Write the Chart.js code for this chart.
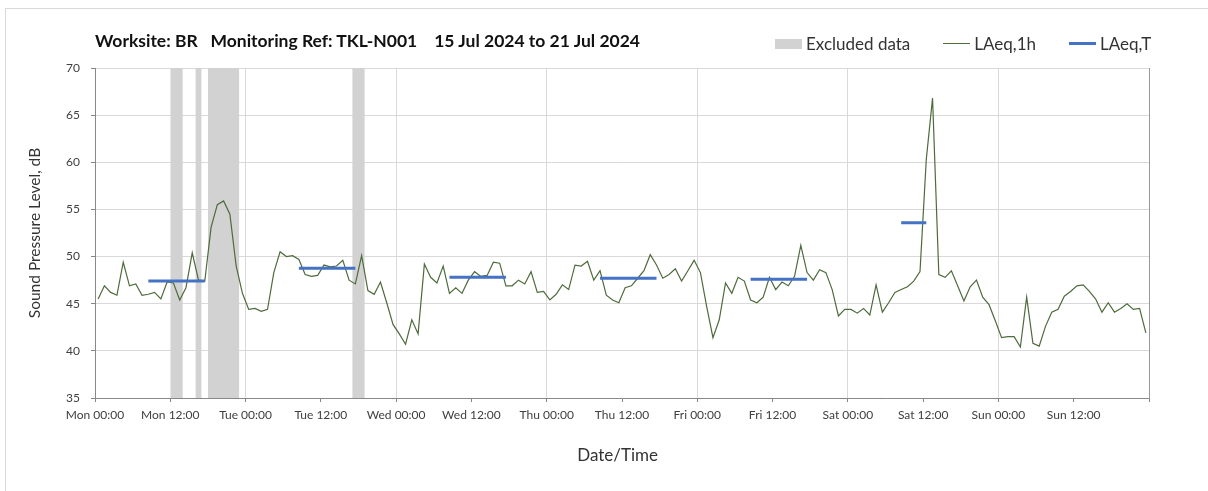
<!DOCTYPE html>
<html>
<head>
<meta charset="utf-8">
<script src="https://cdn.jsdelivr.net/npm/chart.js"></script>
<style>
  html, body { margin: 0; padding: 0; background: #fff; }
  #wrap { position: relative; width: 1208px; height: 491px; overflow: hidden; }
  #frame { position: absolute; left: 5px; top: 8px; right: -2px; bottom: -2px;
           border-left: 1px solid #d9d9d9; border-top: 1px solid #d9d9d9; }
  #title { position: absolute; left: 95px; top: 30px; font: bold 17.5px Lato, sans-serif;
           color: #111; white-space: pre; }
  #legend { position: absolute; left: 775px; top: 33px; font: 17px Lato, sans-serif;
            color: #333; display: flex; align-items: center; white-space: pre; }
  .sw { display: inline-block; width: 27px; margin-right: 4px; }
  .gap { width: 33px; display: inline-block; }
  canvas { position: absolute; left: 0; top: 0; }
</style>
</head>
<body>
<div id="wrap">
  <div id="frame"></div>
  <canvas id="myChart" width="1208" height="491"></canvas>
  <div id="title">Worksite: BR   Monitoring Ref: TKL-N001    15 Jul 2024 to 21 Jul 2024</div>
  <div id="legend">
    <span class="sw" style="height:10px;background:#d2d2d2"></span><span>Excluded data</span><span class="gap"></span>
    <span class="sw" style="height:1px;background:#4e6b3c"></span><span>LAeq,1h</span><span class="gap"></span>
    <span class="sw" style="height:3px;background:#4472c4"></span><span>LAeq,T</span>
  </div>
</div>
<script>
// hourly LAeq,1h values, Mon 00:00 -> Sun 23:00 (hours since Mon 00:00)
const laeq1h = [
  45.5,46.9,46.2,45.9,49.4,46.9,47.1,45.9,46.0,46.2,45.5,47.3,47.2,45.4,46.7,50.4,47.5,47.4,53.1,55.5,55.9,54.5,49.0,46.1,
  44.4,44.5,44.2,44.4,48.3,50.5,50.0,50.1,49.7,48.1,47.9,48.0,49.1,48.9,49.0,49.6,47.5,47.1,50.1,46.4,46.0,47.3,45.1,42.8,
  41.8,40.7,43.3,41.8,49.2,47.8,47.2,49.0,46.1,46.7,46.1,47.5,48.4,47.9,48.0,49.4,49.3,46.9,46.9,47.5,47.1,48.4,46.2,46.3,
  45.4,46.0,47.0,46.5,49.1,49.0,49.5,47.5,48.5,45.9,45.4,45.1,46.7,46.9,47.7,48.5,50.2,49.1,47.7,48.1,48.7,47.4,48.5,49.6,
  48.3,44.7,41.4,43.3,47.2,46.1,47.8,47.4,45.4,45.1,45.7,47.8,46.5,47.3,46.9,47.9,51.2,48.3,47.5,48.6,48.3,46.5,43.7,44.4,
  44.4,44.0,44.5,43.8,47.0,44.1,45.1,46.2,46.5,46.8,47.4,48.4,60.3,66.8,48.1,47.8,48.5,46.9,45.3,46.8,47.5,45.7,44.9,43.2,
  41.4,41.5,41.5,40.4,45.7,40.8,40.5,42.6,44.1,44.4,45.8,46.3,46.9,47.0,46.3,45.5,44.1,45.1,44.1,44.5,45.0,44.4,44.5,41.9
];

// LAeq,T periods (hours since Mon 00:00)
const periodStart = [8.5, 32.5, 56.5, 80.5, 104.5, 128.5];
const periodEnd   = [17.5, 41.5, 65.5, 89.5, 113.5, 132.5];
const laeqT       = [47.4, 48.75, 47.8, 47.7, 47.6, 53.6];

// excluded data windows (hours since Mon 00:00)
const excludedStart = [12, 16, 18, 41];
const excludedEnd   = [14, 17, 23, 43];

const tickLabels = ['Mon 00:00','Mon 12:00','Tue 00:00','Tue 12:00','Wed 00:00','Wed 12:00','Thu 00:00',
  'Thu 12:00','Fri 00:00','Fri 12:00','Sat 00:00','Sat 12:00','Sun 00:00','Sun 12:00'];

const ctx = document.getElementById('myChart');

const lineData = laeq1h.map((v, i) => ({ x: i + 0.5, y: v }));

const tData = [];
periodStart.forEach((s, i) => {
  tData.push({ x: s, y: laeqT[i] }, { x: periodEnd[i], y: laeqT[i] }, { x: periodEnd[i] + 0.01, y: null });
});

const excludedSets = excludedStart.map((s, i) => ({
  type: 'line',
  label: 'Excluded data',
  data: [{ x: s, y: 70 }, { x: excludedEnd[i], y: 70 }],
  borderWidth: 0,
  borderColor: 'rgba(0,0,0,0)',
  backgroundColor: '#d2d2d2',
  fill: 'start',
  pointRadius: 0,
  order: 3
}));

const tickFont = { family: 'Lato', size: 12 };

new Chart(ctx, {
  type: 'line',
  data: {
    datasets: [
      {
        label: 'LAeq,1h',
        data: lineData,
        borderColor: '#4e6b3c',
        borderWidth: 1.2,
        pointRadius: 0,
        tension: 0,
        order: 2
      },
      {
        label: 'LAeq,T',
        data: tData,
        borderColor: '#4472c4',
        borderWidth: 3,
        pointRadius: 0,
        spanGaps: false,
        order: 1
      },
      ...excludedSets
    ]
  },
  options: {
    responsive: false,
    devicePixelRatio: 1,
    animation: false,
    layout: { padding: { top: 68, left: 26, right: 0, bottom: 0 } },
    plugins: {
      legend: { display: false },
      tooltip: { enabled: false }
    },
    scales: {
      x: {
        type: 'linear',
        min: 0,
        max: 168,
        afterFit: s => { s.height = 93; },
        afterBuildTicks: s => { s.ticks = tickLabels.map((_, i) => ({ value: i * 12 })).concat([{ value: 168 }]); },
        ticks: {
          autoSkip: false,
          maxRotation: 0,
          padding: 6,
          color: '#404040',
          font: tickFont,
          callback: (v, i) => tickLabels[i] ?? ''
        },
        grid: {
          color: c => (c.tick && c.tick.value % 24 === 0) ? '#d9d9d9' : 'rgba(0,0,0,0)',
          tickColor: '#888',
          tickLength: 4
        },
        border: { color: '#888' },
        title: { display: true, text: 'Date/Time  ', color: '#333', font: { family: 'Lato', size: 17 }, padding: { top: 0, bottom: 25 } }
      },
      y: {
        min: 35,
        max: 70,
        afterFit: s => { s.width = 69; },
        ticks: { stepSize: 5, padding: 11, color: '#404040', font: tickFont },
        grid: { color: '#d9d9d9', tickColor: '#888', tickLength: 4 },
        border: { color: '#888' },
        title: { display: true, text: 'Sound Pressure Level, dB', color: '#333', font: { family: 'Lato', size: 15.5 }, padding: 0 }
      },
      y2: {
        position: 'right',
        min: 35,
        max: 70,
        afterFit: s => { s.width = 59; },
        ticks: { display: false },
        grid: { display: false },
        border: { color: '#999' }
      }
    }
  }
});
</script>
</body>
</html>
